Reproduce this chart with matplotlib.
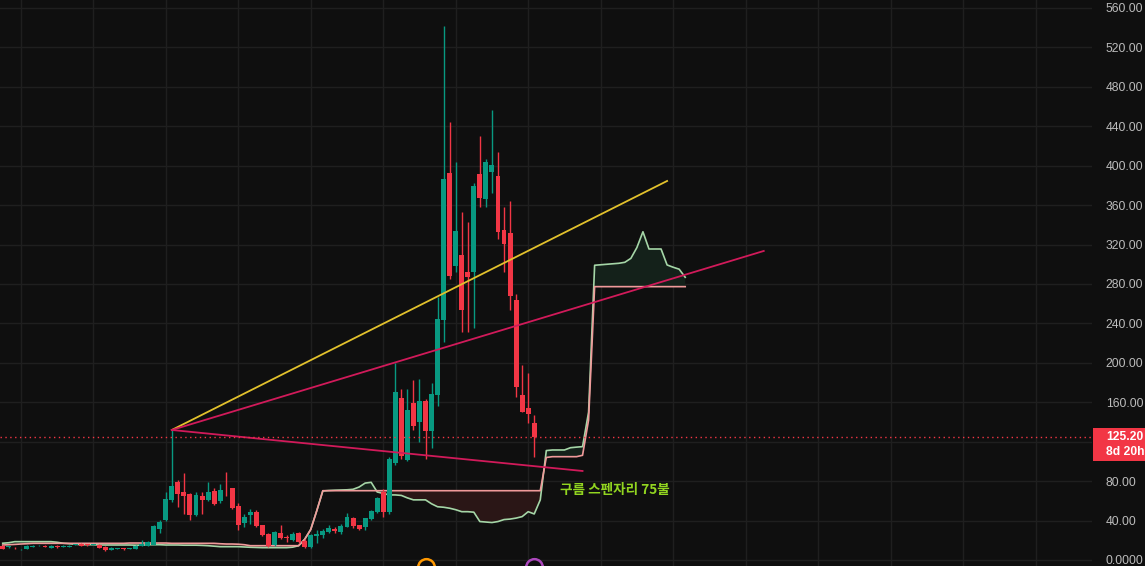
import matplotlib
matplotlib.use('Agg')
from matplotlib import pyplot as plt
from matplotlib.patches import Rectangle

# candle values, one entry per bar (oldest first)
opens = [14.5, 13.0, 12.5, 10.8, 11.5, 13.5, 14.8, 14.5, 12.0, 14.5,
         13.5, 13.5, 15.0, 16.2, 15.8, 15.5, 15.2, 13.2, 10.5, 11.0,
         12.0, 11.0, 11.5, 14.5, 14.5, 15.2, 31.4, 40.6, 60.9, 79.1,
         69.3, 67.0, 45.7, 65.2, 60.9, 70.0, 59.5, 72.0, 73.0, 54.8,
         37.5, 45.7, 48.4, 35.2, 26.4, 15.2, 27.4, 22.8, 20.3, 27.0,
         19.3, 13.2, 24.7, 25.4, 28.7, 31.8, 28.4, 33.8, 42.6, 35.5,
         33.8, 41.6, 49.0, 69.3, 49.0, 98.7, 164.4, 101.1, 159.6, 140.3,
         161.6, 131.2, 167.4, 243.5, 392.6, 298.6, 309.4, 292.2, 292.5, 391.6,
         366.5, 394.0, 389.6, 334.8, 331.7, 263.8, 167.4, 154.2, 139.0]
highs = [15.0, 14.0, 13.0, 11.5, 15.0, 15.0, 15.5, 15.0, 15.0, 15.0,
         15.0, 15.0, 15.8, 17.0, 16.2, 16.5, 15.8, 14.0, 12.8, 12.0,
         12.5, 12.0, 15.0, 20.0, 19.0, 35.0, 41.0, 69.0, 131.9, 81.0,
         88.6, 67.5, 69.0, 69.0, 79.0, 72.7, 77.0, 89.0, 73.5, 57.5,
         46.4, 51.4, 50.7, 36.0, 27.5, 29.4, 35.5, 25.0, 28.4, 28.0,
         21.0, 26.0, 30.4, 31.4, 35.0, 33.0, 36.5, 47.5, 43.5, 36.0,
         43.0, 51.0, 64.0, 71.7, 104.0, 199.6, 173.5, 173.5, 182.6, 183.6,
         163.0, 179.9, 267.0, 541.7, 444.4, 403.8, 353.0, 343.0, 382.0, 430.2,
         406.8, 456.5, 413.9, 358.1, 364.2, 269.9, 197.8, 189.7, 147.1]
lows = [11.0, 12.5, 11.3, 10.5, 11.2, 13.2, 14.5, 13.0, 11.8, 12.5,
        13.2, 13.2, 14.8, 14.0, 14.6, 15.2, 12.2, 9.5, 10.2, 10.8,
        10.5, 10.8, 11.2, 14.0, 14.2, 15.0, 27.7, 40.0, 59.0, 54.0,
        46.7, 41.0, 44.5, 46.7, 60.0, 56.0, 57.5, 65.0, 52.0, 30.4,
        33.8, 36.5, 33.5, 24.0, 13.0, 14.5, 21.0, 18.3, 19.5, 17.0,
        12.5, 12.5, 17.0, 22.0, 27.5, 27.0, 26.0, 33.0, 32.0, 30.0,
        30.4, 40.5, 48.0, 44.0, 47.0, 96.0, 102.0, 100.4, 132.0, 120.0,
        102.5, 114.0, 156.5, 220.8, 284.8, 292.5, 231.6, 231.6, 235.7, 358.4,
        358.4, 372.6, 325.4, 292.5, 253.9, 165.7, 150.0, 139.3, 104.2]
closes = [11.5, 13.3, 11.8, 11.2, 14.5, 14.5, 15.2, 13.5, 14.5, 13.0,
          14.5, 14.5, 15.4, 14.5, 15.0, 16.0, 12.5, 10.5, 12.2, 11.5,
          11.0, 11.5, 14.5, 16.5, 18.0, 34.5, 38.9, 61.9, 75.0, 67.3,
          65.2, 45.7, 66.0, 60.9, 69.0, 57.0, 71.0, 71.6, 52.8, 35.5,
          43.6, 48.4, 34.5, 25.4, 14.2, 28.1, 22.3, 22.3, 26.4, 18.3,
          13.2, 25.0, 26.4, 29.1, 32.8, 29.1, 34.8, 43.3, 34.8, 31.4,
          42.3, 49.7, 62.9, 49.0, 102.5, 170.4, 105.8, 152.2, 136.2, 161.6,
          131.2, 168.7, 244.5, 386.5, 288.1, 334.0, 253.9, 287.1, 379.4, 367.6,
          403.5, 400.7, 333.0, 320.9, 268.1, 175.8, 150.5, 148.1, 125.2]

# ichimoku cloud edges (extends 25 bars past the last candle)
span_a = [17.0, 17.5, 18.6, 18.6, 18.6, 18.6, 18.6, 18.6, 18.6, 18.0,
          17.0, 16.5, 16.0, 15.5, 15.5, 15.5, 15.2, 15.2, 15.2, 15.2,
          15.2, 15.2, 15.0, 15.0, 15.5, 15.5, 15.5, 15.2, 15.2, 15.2,
          15.0, 15.0, 15.0, 14.8, 14.5, 14.0, 13.5, 13.5, 13.5, 13.5,
          13.2, 12.9, 12.7, 12.5, 12.5, 12.5, 12.5, 12.5, 13.0, 14.5,
          21.0, 31.0, 50.0, 70.0, 70.5, 70.8, 71.0, 71.2, 71.7, 74.0,
          78.0, 78.8, 69.0, 67.5, 66.0, 66.0, 65.5, 63.0, 61.0, 61.0,
          61.0, 57.0, 54.0, 53.5, 52.5, 51.0, 49.0, 49.0, 48.5, 39.0,
          38.5, 38.0, 39.0, 41.0, 41.5, 42.5, 44.0, 49.0, 46.7, 61.0,
          111.0, 111.6, 111.6, 111.6, 113.9, 114.5, 115.0, 150.0, 299.0, 299.5,
          300.0, 300.5, 301.0, 302.0, 306.0, 317.0, 333.0, 315.5, 315.5, 315.5,
          299.3, 297.0, 295.0, 286.8]
span_b = [15.2, 15.5, 15.8, 16.2, 16.5, 16.9, 16.9, 16.9, 16.9, 16.9,
          16.9, 16.9, 16.9, 16.9, 16.9, 16.9, 16.9, 16.9, 16.9, 16.9,
          16.9, 17.2, 17.2, 17.2, 17.2, 17.2, 17.2, 17.2, 16.9, 16.9,
          16.9, 16.9, 16.9, 16.9, 16.9, 16.9, 16.5, 16.2, 16.2, 16.0,
          15.5, 14.5, 14.5, 14.5, 14.5, 14.5, 14.5, 14.5, 14.5, 14.5,
          21.0, 31.0, 50.0, 70.3, 70.3, 70.3, 70.3, 70.3, 70.3, 70.3,
          70.3, 70.3, 70.3, 70.3, 70.3, 70.3, 70.3, 70.3, 70.3, 70.3,
          70.3, 70.3, 70.3, 70.3, 70.3, 70.3, 70.3, 70.3, 70.3, 70.3,
          70.3, 70.3, 70.3, 70.3, 70.3, 70.3, 70.3, 70.3, 70.3, 70.3,
          104.0, 104.8, 104.8, 104.8, 104.8, 104.8, 106.2, 142.0, 277.3, 277.3,
          277.3, 277.3, 277.3, 277.3, 277.3, 277.3, 277.3, 277.3, 277.3, 277.3,
          277.3, 277.3, 277.3, 277.3]

# drawn trend lines: (bar index, price) start and end
trend_yellow = [(28, 131.9), (110, 384.5)]
trend_up = [(28, 131.9), (126, 313.5)]
trend_down = [(28, 131.9), (96, 90.3)]

last_price = 125.2
badge_lines = ['125.20', '8d 20h']
note_text = '구름 스펜자리 75불'
note_pos = (92.3, 71.0)
event_marks = [(70, '#ff9800'), (88, '#ab47bc')]

price_ticks = list(range(0, 561, 40))
# the 120 label sits behind the last-price badge, so it is left blank
tick_labels = ['0.0000' if p == 0 else ('' if p == 120 else f'{p:.2f}') for p in price_ticks]

BG = '#0f0f0f'
GRID = '#1f1f1f'
UP = '#089981'
DOWN = '#f23645'


def draw_candles(axes) -> None:
    for i, (o, h, l, c) in enumerate(zip(opens, highs, lows, closes)):
        color = UP if c >= o else DOWN
        axes.vlines(i, l, h, color=color, linewidth=1, zorder=3)
        height = max(abs(c - o), 0.8)
        axes.bar(i, height, bottom=min(o, c), width=0.82, color=color,
                 linewidth=0, zorder=4)


def draw_cloud(axes) -> None:
    xs = list(range(len(span_a)))
    greener = [a >= b for a, b in zip(span_a, span_b)]
    redder = [a <= b for a, b in zip(span_a, span_b)]
    axes.fill_between(xs, span_a, span_b, where=greener, interpolate=True,
                      color='#14211a', linewidth=0, zorder=1)
    axes.fill_between(xs, span_a, span_b, where=redder, interpolate=True,
                      color='#2a1616', linewidth=0, zorder=1)
    axes.plot(xs, span_a, color='#a5d6a7', linewidth=1.2, zorder=2)
    axes.plot(xs, span_b, color='#ef9a9a', linewidth=1.2, zorder=2)


def main() -> None:
    plt.rcParams['font.family'] = ['Liberation Sans', 'DejaVu Sans']
    figure = plt.figure(figsize=(11.45, 5.66), dpi=100, facecolor=BG)
    axes = figure.add_axes([0, 0, 1092 / 1145, 1])
    axes.set_facecolor(BG)
    axes.set_xlim(-0.45, 180.35)
    axes.set_ylim(-6.1, 568.1)

    # grid
    axes.set_xticks(range(3, 180, 12))
    axes.set_yticks(price_ticks)
    axes.set_yticklabels(tick_labels)
    axes.grid(True, color=GRID, linewidth=1)
    axes.set_axisbelow(True)
    axes.tick_params(axis='x', length=0, labelbottom=False)
    axes.yaxis.tick_right()
    axes.tick_params(axis='y', length=0, pad=10, labelsize=8.7, labelcolor='#bcbcbc')
    for label in axes.get_yticklabels():
        label.set_horizontalalignment('left')
    for spine in axes.spines.values():
        spine.set_visible(False)

    draw_cloud(axes)
    draw_candles(axes)

    for (x0, y0), (x1, y1) in [trend_yellow]:
        axes.plot([x0, x1], [y0, y1], color='#e2c12c', linewidth=1.3, zorder=5)
    for (x0, y0), (x1, y1) in [trend_up, trend_down]:
        axes.plot([x0, x1], [y0, y1], color='#d11a5a', linewidth=1.3, zorder=5)

    axes.axhline(last_price, color=DOWN, linewidth=1, linestyle=(0, (1, 2.5)), zorder=6)

    axes.text(note_pos[0], note_pos[1], note_text, color='#92d520', fontsize=9.8,
              weight='bold', va='center', ha='left',
              family=['Noto Sans CJK KR', 'DejaVu Sans'], zorder=7)

    for x, color in event_marks:
        axes.plot(x, -7.1, marker='o', markersize=12, markerfacecolor=BG,
                  markeredgecolor=color, markeredgewidth=1.8, clip_on=False, zorder=8)

    # last price badge on the price scale
    badge = Rectangle((1093 / 1145, (566 - 461) / 566), 52 / 1145, 33 / 566,
                      transform=figure.transFigure, facecolor=DOWN,
                      edgecolor='none', zorder=10)
    figure.add_artist(badge)
    for text, y in zip(badge_lines, (437, 452)):
        figure.text(1106 / 1145, (566 - y) / 566, text, color='white',
                    fontsize=8.7, weight='bold', va='center', ha='left', zorder=11)

    figure.savefig('out.png', dpi=100, facecolor=BG)


if __name__ == '__main__':
    main()
